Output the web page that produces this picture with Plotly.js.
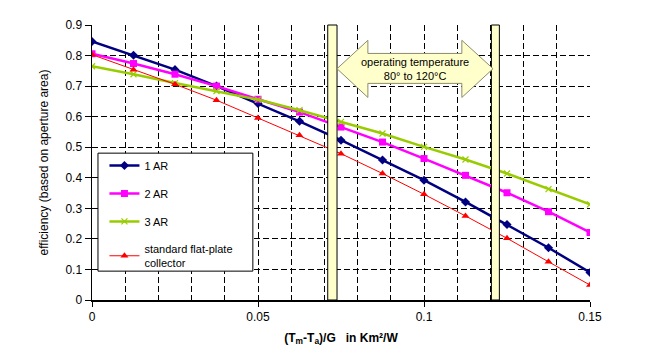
<!DOCTYPE html>
<html><head><meta charset="utf-8">
<script src="https://cdn.plot.ly/plotly-3.0.1.min.js"></script>
<style>html,body{margin:0;padding:0;background:#fff}#chart{width:653px;height:364px}</style>
</head><body><div id="chart"></div>
<script>
// ---- data ----
const xValues = [0, 0.0125, 0.025, 0.0375, 0.05, 0.0625, 0.075, 0.0875, 0.1, 0.1125, 0.125, 0.1375, 0.15];
const ar1  = [0.846, 0.801, 0.754, 0.700, 0.643, 0.585, 0.523, 0.458, 0.392, 0.321, 0.247, 0.171, 0.090];
const ar2  = [0.806, 0.774, 0.739, 0.700, 0.657, 0.615, 0.566, 0.517, 0.463, 0.408, 0.351, 0.289, 0.221];
const ar3  = [0.765, 0.739, 0.710, 0.684, 0.656, 0.621, 0.583, 0.545, 0.501, 0.460, 0.414, 0.363, 0.313];
const flat = [0.803, 0.754, 0.706, 0.654, 0.596, 0.539, 0.479, 0.414, 0.346, 0.275, 0.202, 0.125, 0.049];
const seriesNames = ['1 AR', '2 AR', '3 AR', 'standard flat-plate<br>collector'];
const xTickVals = [0, 0.05, 0.1, 0.15];
const xTickText = ['0', '0.05', '0.1', '0.15'];
const bandRanges = [[0.0710, 0.0738], [0.1203, 0.1227]];
const arrowText = 'operating temperature<br>80° to 120°C';

// ---- styling ----
const FONT = 'Liberation Sans, Arial, sans-serif';
const colors = ['#000080', '#ff00ff', '#99cc00', '#ff0000'];
const widths = [2.5, 2.5, 2.5, 1];
const symbols = ['diamond', 'square', 'x-thin-open', 'triangle-up'];
const sizes = [7, 7, 6, 7];
const ys = [ar1, ar2, ar3, flat];

const traces = ys.map((y, i) => ({
  x: xValues, y: y, name: seriesNames[i], type: 'scatter', mode: 'lines+markers',
  legendgroup: 'g' + i,
  line: {color: colors[i], width: widths[i]},
  marker: {symbol: symbols[i], size: sizes[i], color: colors[i],
           line: {color: colors[i], width: symbols[i] === 'x-thin-open' ? 1.2 : 0}}
}));

// arrow geometry (data coords)
const ax = [0.0738, 0.0831, 0.1114, 0.1208];
const ay = {bot: 0.663, bodyBot: 0.709, mid: 0.757, bodyTop: 0.807, top: 0.850};
const arrowPath = `M ${ax[0]},${ay.mid} L ${ax[1]},${ay.top} L ${ax[1]},${ay.bodyTop} L ${ax[2]},${ay.bodyTop} L ${ax[2]},${ay.top} L ${ax[3]},${ay.mid} L ${ax[2]},${ay.bot} L ${ax[2]},${ay.bodyBot} L ${ax[1]},${ay.bodyBot} L ${ax[1]},${ay.bot} Z`;

const shapes = bandRanges.map(r => ({
  type: 'rect', xref: 'x', yref: 'paper', x0: r[0], x1: r[1], y0: 0, y1: 1,
  fillcolor: '#ffffcc', line: {color: '#000', width: 1}, layer: 'above'
}));
shapes.push({type: 'path', xref: 'x', yref: 'y', path: arrowPath,
  fillcolor: '#ffffcc', line: {color: '#8c8c6a', width: 1}, layer: 'above'});
// legend frame
shapes.push({type: 'rect', xref: 'paper', yref: 'paper', x0: 0.012, x1: 0.323, y0: 0.105, y1: 0.534,
  fillcolor: '#ffffff', line: {color: '#000', width: 1}, layer: 'above'});

const gridDash = '6px,3px';
const layout = {
  width: 653, height: 364,
  margin: {l: 92, r: 63, t: 25, b: 64},
  paper_bgcolor: '#fff', plot_bgcolor: '#fff',
  font: {family: FONT, size: 12, color: '#000'},
  showlegend: true,
  legend: {x: 0.025, y: 0.542, xanchor: 'left', yanchor: 'top', bgcolor: 'rgba(0,0,0,0)',
           borderwidth: 0, font: {family: FONT, size: 11, color: '#000'}, tracegroupgap: 9},
  xaxis: {
    range: [0, 0.15], tickvals: xTickVals, ticktext: xTickText,
    showline: true, linecolor: '#000', linewidth: 1.5, ticks: 'outside', ticklen: 5, tickcolor: '#000',
    showgrid: true, gridcolor: '#000', gridwidth: 1, griddash: gridDash, zeroline: false,
    minor: {dtick: 0.01, tick0: 0, showgrid: true, gridcolor: '#000', gridwidth: 1, griddash: gridDash},
    tickfont: {size: 12},
    title: {text: '<b>(T<sub>m</sub>-T<sub>a</sub>)/G\u00a0\u00a0\u00a0in Km²/W</b>', font: {size: 12}, standoff: 10}
  },
  yaxis: {
    range: [0, 0.9001], dtick: 0.1, tick0: 0,
    showline: true, linecolor: '#000', linewidth: 1.5, ticks: 'outside', ticklen: 6, tickcolor: '#000',
    showgrid: true, gridcolor: '#000', gridwidth: 1, griddash: gridDash, zeroline: false,
    tickfont: {size: 12},
    title: {text: 'efficiency (based on aperture area)', font: {size: 12}, standoff: 14}
  },
  shapes: shapes,
  annotations: [{
    xref: 'x', yref: 'y', x: (ax[0] + ax[3]) / 2, y: ay.mid, text: arrowText, showarrow: false,
    font: {family: FONT, size: 11, color: '#000'}
  }]
};

Plotly.newPlot('chart', traces, layout, {displayModeBar: false, staticPlot: true});
</script>
</body></html>
